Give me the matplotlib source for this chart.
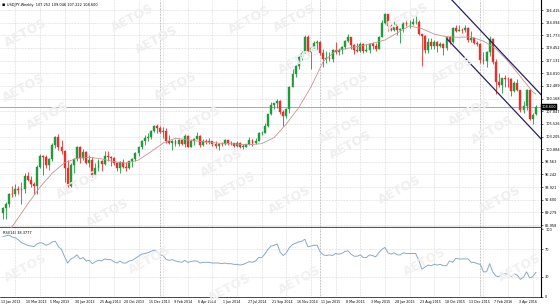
import matplotlib
matplotlib.use("Agg")
import matplotlib.pyplot as plt
import numpy as np

# ---------------- data (USDJPY weekly, week index 0 = 13 Jan 2013) ----------------
opens = [89.20, 90.06, 90.85, 92.70, 92.60, 93.50, 93.40, 93.60, 96.00, 95.20,
         94.50, 94.20, 97.60, 99.60, 99.50, 98.00, 99.00, 101.60, 103.20, 101.20,
         100.50, 97.50, 94.20, 97.90, 99.10, 101.20, 99.20, 100.30, 98.30, 98.90,
         96.20, 97.50, 98.70, 98.20, 99.60, 99.40, 99.30, 98.30, 97.40, 98.60,
         97.70, 97.40, 98.70, 99.00, 100.20, 101.30, 102.40, 102.90, 103.20, 104.20,
         105.20, 104.80, 104.10, 104.30, 102.30, 102.00, 102.30, 101.80, 102.50, 101.80,
         103.30, 101.30, 102.30, 102.80, 103.30, 101.60, 102.40, 102.20, 102.30, 101.80,
         101.50, 101.90, 101.80, 102.50, 102.00, 101.95, 101.40, 102.10, 101.30, 101.35,
         101.80, 102.60, 102.00, 102.40, 103.80, 103.90, 105.10, 107.30, 109.00, 109.30,
         109.80, 107.70, 106.90, 108.20, 112.30, 114.60, 116.20, 117.80, 118.60, 121.40,
         118.80, 119.50, 120.40, 120.50, 118.50, 117.50, 117.70, 117.50, 119.10, 118.70,
         119.00, 119.60, 120.80, 121.40, 120.00, 119.10, 118.90, 120.20, 118.90, 119.00,
         120.20, 119.80, 119.30, 121.50, 124.10, 125.60, 123.40, 122.70, 123.80, 122.80,
         122.85, 124.10, 123.80, 123.90, 124.20, 124.30, 122.00, 121.70, 119.00, 120.60,
         119.90, 120.60, 119.90, 120.20, 119.40, 121.50, 120.60, 123.20, 122.60, 122.80,
         122.75, 123.10, 120.90, 121.20, 120.30, 120.20, 117.20, 117.00, 118.80, 121.10,
         116.80, 113.20, 112.60, 113.90, 113.80, 113.75, 111.50, 113.00, 111.70, 108.00,
         108.80, 111.80, 106.40, 107.25]
highs = [90.20, 91.26, 92.80, 94.10, 94.46, 94.10, 94.80, 96.60, 96.70, 96.00,
         94.90, 97.90, 99.95, 99.90, 99.90, 99.20, 101.98, 103.30, 103.74, 102.50,
         100.80, 98.90, 98.30, 99.30, 101.50, 101.50, 100.86, 100.50, 99.90, 99.40,
         98.40, 99.10, 98.90, 100.60, 100.60, 99.70, 99.50, 98.60, 98.70, 99.00,
         98.50, 98.80, 99.20, 100.40, 101.40, 102.60, 103.40, 103.90, 104.40, 105.40,
         105.44, 105.20, 104.90, 104.80, 103.40, 102.50, 102.80, 102.80, 102.60, 103.70,
         103.40, 102.70, 102.90, 104.10, 103.40, 102.70, 102.70, 102.90, 102.40, 102.40,
         102.00, 102.20, 102.80, 102.60, 102.40, 102.10, 102.30, 102.20, 101.80, 101.90,
         103.10, 102.80, 102.90, 104.10, 104.20, 105.70, 107.40, 109.50, 109.40, 110.10,
         109.90, 108.00, 108.40, 112.50, 115.60, 116.30, 118.00, 118.90, 121.80, 121.80,
         119.60, 120.80, 121.00, 120.80, 119.30, 118.90, 118.70, 119.20, 120.50, 119.40,
         119.90, 120.90, 122.00, 121.50, 120.10, 120.40, 120.60, 120.30, 120.10, 120.30,
         120.50, 120.30, 121.60, 124.50, 125.86, 125.70, 123.90, 124.40, 123.90, 123.20,
         124.30, 124.60, 124.60, 125.00, 125.30, 124.60, 122.00, 121.75, 121.30, 121.30,
         120.90, 120.70, 120.60, 120.30, 121.60, 121.60, 123.30, 123.60, 123.70, 123.10,
         123.70, 123.30, 122.60, 121.30, 120.70, 120.40, 118.80, 118.90, 121.70, 121.30,
         117.40, 114.90, 114.00, 114.50, 114.20, 114.00, 113.30, 113.80, 111.80, 109.70,
         111.90, 111.90, 107.50, 109.05]
lows = [88.00, 88.10, 90.20, 92.10, 92.20, 92.70, 90.85, 92.80, 95.00, 94.00,
        92.60, 92.60, 97.50, 96.20, 97.50, 97.10, 98.80, 101.10, 100.70, 100.00,
        94.90, 93.80, 94.00, 96.60, 98.80, 98.30, 98.90, 98.20, 97.60, 95.80,
        96.00, 96.80, 96.80, 98.00, 98.80, 97.80, 98.00, 96.90, 96.60, 97.50,
        96.90, 97.20, 97.60, 98.80, 99.60, 101.00, 101.60, 102.30, 102.70, 104.00,
        103.90, 103.90, 102.90, 102.10, 101.80, 100.76, 101.50, 101.50, 101.60, 101.20,
        101.20, 101.20, 101.70, 102.70, 101.30, 101.40, 101.90, 101.90, 101.40, 101.10,
        100.80, 101.40, 101.70, 101.60, 101.70, 101.20, 101.20, 101.10, 101.00, 101.20,
        101.70, 101.50, 101.90, 102.30, 103.50, 103.80, 105.00, 107.10, 108.30, 108.50,
        107.30, 105.20, 106.60, 107.50, 112.20, 114.20, 115.50, 117.20, 118.50, 118.20,
        115.50, 119.40, 119.00, 118.10, 115.90, 116.60, 117.00, 116.90, 118.30, 118.20,
        118.40, 119.20, 120.60, 119.30, 118.30, 118.70, 118.80, 118.50, 118.80, 118.50,
        119.20, 118.90, 119.20, 121.40, 123.90, 122.50, 122.50, 122.60, 121.90, 120.40,
        122.40, 123.50, 123.20, 123.70, 123.80, 121.80, 116.20, 118.60, 118.60, 119.30,
        119.30, 118.70, 119.60, 118.10, 119.10, 120.10, 120.30, 122.30, 122.50, 122.20,
        122.30, 120.60, 120.60, 120.10, 119.90, 116.70, 116.50, 115.97, 117.90, 116.50,
        110.98, 112.20, 111.10, 112.20, 112.20, 110.70, 111.30, 111.60, 107.70, 107.60,
        108.10, 106.20, 105.55, 107.22]
closes = [90.06, 90.85, 92.70, 92.60, 93.50, 93.40, 93.60, 96.00, 95.20, 94.50,
          94.20, 97.60, 99.60, 99.50, 98.00, 99.00, 101.60, 103.20, 101.20, 100.50,
          97.50, 94.20, 97.90, 99.10, 101.20, 99.20, 100.30, 98.30, 98.90, 96.20,
          97.50, 98.70, 98.20, 99.60, 99.40, 99.30, 98.30, 97.40, 98.60, 97.70,
          97.40, 98.70, 99.00, 100.20, 101.30, 102.40, 102.90, 103.20, 104.20, 105.20,
          104.80, 104.10, 104.30, 102.30, 102.00, 102.30, 101.80, 102.50, 101.80, 103.30,
          101.30, 102.30, 102.80, 103.30, 101.60, 102.40, 102.20, 102.30, 101.80, 101.50,
          101.90, 101.80, 102.50, 102.00, 101.95, 101.40, 102.10, 101.30, 101.35, 101.80,
          102.60, 102.00, 102.40, 103.80, 103.90, 105.10, 107.30, 109.00, 109.30, 109.80,
          107.70, 106.90, 108.20, 112.30, 114.60, 116.20, 117.80, 118.60, 121.40, 118.80,
          119.50, 120.40, 120.50, 118.50, 117.50, 117.70, 117.50, 119.10, 118.70, 119.00,
          119.60, 120.80, 121.40, 120.00, 119.10, 118.90, 120.20, 118.90, 119.00, 120.20,
          119.80, 119.30, 121.50, 124.10, 125.60, 123.40, 122.70, 123.80, 122.80, 122.85,
          124.10, 123.80, 123.90, 124.20, 124.30, 122.00, 121.70, 119.00, 120.60, 119.90,
          120.60, 119.90, 120.20, 119.40, 121.50, 120.60, 123.20, 122.60, 122.80, 122.75,
          123.10, 120.90, 121.20, 120.30, 120.20, 117.20, 117.00, 118.80, 121.10, 116.80,
          113.20, 112.60, 113.90, 113.80, 113.75, 111.50, 113.00, 111.70, 108.00, 108.80,
          111.80, 106.40, 107.10, 108.60]

# moving average readings (week index, value)
ma_weeks = [0, 4, 8, 12, 16, 20, 24, 28, 32, 36, 40, 44, 48, 52, 56, 60, 64, 68, 72,
            76, 80, 84, 88, 92, 96, 100, 104, 108, 112, 116, 120, 124, 128, 132, 136,
            140, 144, 148, 152, 156, 160, 164, 168, 172, 173]
ma_values = [84.3, 87.5, 90.8, 93.9, 96.5, 98.4, 99.2, 99.4, 99.1, 98.6, 98.3, 98.9,
             100.4, 102.0, 102.9, 102.6, 102.3, 102.1, 101.9, 101.8, 101.7, 101.9,
             103.0, 105.5, 108.5, 112.3, 117.0, 118.9, 119.4, 119.8, 120.3, 120.9,
             122.2, 123.5, 123.0, 122.0, 121.5, 121.4, 121.5, 120.7, 119.3, 117.0,
             114.2, 111.4, 111.0]

rsi_values = [89, 90, 91, 88, 87, 84, 80, 78, 76, 75, 74, 78, 80, 79, 76, 78, 81, 82,
              74, 70, 59, 50, 56, 58, 62, 56, 58, 53, 54, 49, 52, 54, 53, 56, 55, 55,
              52, 50, 53, 50, 50, 53, 54, 57, 60, 63, 64, 65, 67, 69, 67,
              62, 61, 55, 54, 55, 53, 52, 51, 54, 51, 52, 53, 53, 50, 51, 51, 51, 50,
              50, 50, 49, 50, 49, 49, 48, 48, 47, 48, 50, 52, 51, 53, 58, 58, 63, 70,
              75, 76, 78, 66, 61, 65, 73, 77, 79, 81, 82, 85, 74, 75, 76, 76,
              66, 62, 61, 62, 61, 64, 63, 64, 67, 68, 63, 60, 60, 62, 58, 58, 62, 61,
              59, 65, 70, 73, 65, 63, 65, 62, 62, 65, 64, 64, 64, 64, 54, 41, 44, 47,
              46, 48, 47, 48, 46, 46, 53, 51, 57, 56, 56, 56, 56, 51, 51, 49,
              48, 37, 37, 49, 37, 31, 30, 34, 34, 34, 30, 34, 32, 26, 29, 37, 28, 30, 36]

# channel trend lines (week index, price)
channel_upper_weeks = [144.0, 176.0]
channel_upper_prices = [129.30, 110.10]
channel_lower_weeks = [144.2, 176.0]
channel_lower_prices = [121.09, 102.00]

date_labels = ["13 Jan 2013", "10 Mar 2013", "5 May 2013", "30 Jun 2013", "25 Aug 2013",
               "20 Oct 2013", "15 Dec 2013", "9 Feb 2014", "6 Apr 2014", "1 Jun 2014",
               "27 Jul 2014", "21 Sep 2014", "16 Nov 2014", "11 Jan 2015", "8 Mar 2015",
               "3 May 2015", "28 Jun 2015", "23 Aug 2015", "18 Oct 2015", "13 Dec 2015",
               "7 Feb 2016", "3 Apr 2016"]
price_ticks = [126.415, 124.094, 121.773, 119.452, 117.131, 114.810, 112.489, 110.168,
               107.847, 105.526, 103.205, 100.884, 98.563, 96.242, 93.921, 91.600,
               89.279, 86.958]
rsi_ticks = [0, 30, 70, 100]
year_start_weeks = [51, 103, 155]
header = "USDJPY,Weekly  107.252 109.046 107.222 108.600"
rsi_header = "RSI(14) 38.3777"

# ---------------- layout ----------------
W, H = 560, 308
fig = plt.figure(figsize=(W / 100, H / 100), dpi=100)
fig.patch.set_facecolor("white")

def frac_box(x0, y0, x1, y1):
    return [x0 / W, 1 - y1 / H, (x1 - x0) / W, (y1 - y0) / H]

ax = fig.add_axes(frac_box(0, 0, 541, 228))
ax_r = fig.add_axes(frac_box(0, 228, 541, 297))

n = len(closes)
idx = np.arange(n)
xmin, xmax = -0.974, 174.68
FS = 2.5
grid_kw = dict(color="#cfcfcf", lw=0.5, ls=(0, (1, 1.2)), zorder=0)
sep_kw = dict(color="#8a8a8a", lw=0.5, ls=(0, (1, 1.2)), zorder=0)

for a in (ax, ax_r):
    a.set_xlim(xmin, xmax)
    a.set_facecolor("white")
    for k in range(4, 176, 8):
        a.axvline(k, **grid_kw)
    for w in year_start_weeks:
        a.axvline(w, **sep_kw)

ax.set_ylim(86.42, 128.25)
for v in price_ticks:
    ax.axhline(v, **grid_kw)

# watermark
wm_main = [(24, 88), (48, 116), (176, 86), (200, 120), (78, 185), (222, 163), (235, 186),
           (108, 213), (295, 18), (408, 17), (453, 70), (348, 86), (470, 112), (340, 130),
           (493, 130), (351, 145), (26, 33), (133, 18), (157, 40), (290, 200), (400, 190),
           (500, 200), (300, 60), (250, 20)]
for (px, py) in wm_main:
    fig.text(px / W, 1 - py / H, "AETOS", fontsize=9, fontweight="bold", color="#efefef",
             rotation=28, ha="center", va="center", zorder=0.5)
wm_rsi = [(26, 268), (150, 260), (300, 280), (425, 262), (520, 268), (230, 288)]
for (px, py) in wm_rsi:
    fig.text(px / W, 1 - py / H, "AETOS", fontsize=9, fontweight="bold", color="#f1f1f1",
             rotation=28, ha="center", va="center", zorder=0.5)

# candles
o = np.array(opens); h = np.array(highs); l = np.array(lows); c = np.array(closes)
up = c >= o
col = np.where(up, "#1f9a3c", "#e8302a")
ax.vlines(idx, l, h, colors=col, lw=0.6, zorder=3)
body_lo = np.minimum(o, c)
body_h = np.maximum(np.abs(c - o), 0.08)
ax.bar(idx, body_h, bottom=body_lo, width=0.62, color=col, edgecolor=col, lw=0.3, zorder=4)

# moving average
ax.plot(ma_weeks, ma_values, color="#c99191", lw=0.6, zorder=5)

# channel
ax.plot(channel_upper_weeks, channel_upper_prices, color="#24245e", lw=0.9, zorder=6)
ax.plot(channel_lower_weeks, channel_lower_prices, color="#24245e", lw=0.9, zorder=6)

# bid line
ax.axhline(closes[-1], color="#9a9a9a", lw=0.6, zorder=2)

# main axis cosmetics
ax.yaxis.tick_right()
ax.set_yticks(price_ticks)
ax.set_yticklabels(["%.3f" % v for v in price_ticks])
ax.tick_params(axis="y", length=1.5, width=0.4, pad=1.5, labelsize=FS, colors="black")
ax.set_xticks([])
for s in ("top", "left"):
    ax.spines[s].set_visible(False)
ax.spines["right"].set_color("black")
ax.spines["right"].set_linewidth(0.8)
ax.spines["bottom"].set_color("#555555")
ax.spines["bottom"].set_linewidth(1.6)
ax.text(xmax + 0.3, closes[-1], "%.3f" % closes[-1], fontsize=FS, color="white",
        ha="left", va="center", transform=ax.transData, clip_on=False, zorder=10,
        bbox=dict(boxstyle="square,pad=0.25", fc="black", ec="black", lw=0.3))

# RSI panel
ax_r.set_ylim(0, 101.5)
for v in (30, 70):
    ax_r.axhline(v, **grid_kw)
ax_r.plot(idx, rsi_values, color="#8aa9c6", lw=0.7, zorder=3)
ax_r.yaxis.tick_right()
ax_r.set_yticks(rsi_ticks)
ax_r.set_yticklabels([str(v) for v in rsi_ticks])
ax_r.tick_params(axis="y", length=1.5, width=0.4, pad=1.5, labelsize=FS)
ax_r.set_xticks([8 * k - 0.6 for k in range(len(date_labels))])
ax_r.set_xticklabels(date_labels, ha="left")
ax_r.tick_params(axis="x", length=0, pad=2.5, labelsize=2.3)
for s in ("top", "left"):
    ax_r.spines[s].set_visible(False)
ax_r.spines["right"].set_color("black")
ax_r.spines["right"].set_linewidth(0.8)
ax_r.spines["bottom"].set_color("black")
ax_r.spines["bottom"].set_linewidth(0.5)

# headers
fig.text(2 / W, 1 - 5 / H, "\u25aa", fontsize=3.5, color="black", ha="left", va="center")
fig.text(7 / W, 1 - 5 / H, header, fontsize=FS, color="black", ha="left", va="center")
fig.text(3 / W, 1 - 233 / H, rsi_header, fontsize=FS, color="black", ha="left", va="center")

fig.savefig("out.png", dpi=100, facecolor="white")
